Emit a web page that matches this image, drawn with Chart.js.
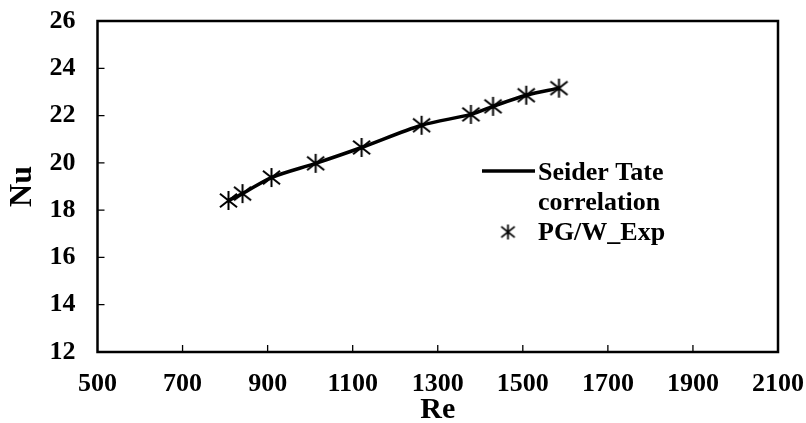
<!DOCTYPE html>
<html>
<head>
<meta charset="utf-8">
<script src="https://cdn.jsdelivr.net/npm/chart.js@4.4.1/dist/chart.umd.min.js"></script>
<style>
  html, body { margin: 0; padding: 0; background: #fff; }
  #wrap { width: 806px; height: 423px; }
</style>
</head>
<body>
<div id="wrap"><canvas id="chart" width="806" height="423"></canvas></div>
<script>
// values
const reValues = [808, 841, 909, 1013, 1121, 1262, 1378, 1430, 1508, 1585];
const nuExp = [18.41, 18.70, 19.38, 19.98, 20.65, 21.59, 22.05, 22.39, 22.86, 23.16];
const nuSeiderTate = [18.41, 18.70, 19.38, 19.98, 20.65, 21.59, 22.05, 22.39, 22.86, 23.16];
const xTicks = [500, 700, 900, 1100, 1300, 1500, 1700, 1900, 2100];
const yTicks = [12, 14, 16, 18, 20, 22, 24, 26];

const FONT = '"Liberation Serif", "Times New Roman", serif';

// six-armed asterisk marker
function makeStar(size, lw) {
  const c = document.createElement('canvas');
  c.width = size; c.height = size;
  const g = c.getContext('2d');
  const m = size / 2, r = size / 2 - 1;
  g.strokeStyle = '#000';
  g.lineWidth = lw;
  g.beginPath();
  g.moveTo(m, m - r); g.lineTo(m, m + r);
  const dx = r * 0.9, dy = r * 0.72;
  g.moveTo(m - dx, m - dy); g.lineTo(m + dx, m + dy);
  g.moveTo(m - dx, m + dy); g.lineTo(m + dx, m - dy);
  g.stroke();
  return c;
}
const star = makeStar(21, 2);
const legendStar = makeStar(17, 1.8);

const toXY = (xs, ys) => xs.map((x, i) => ({ x: x, y: ys[i] }));

const framePlugin = {
  id: 'frame',
  afterDraw(chart) {
    const ctx = chart.ctx;
    const a = chart.chartArea;
    const xs = chart.scales.x, ys = chart.scales.y;
    ctx.save();
    ctx.strokeStyle = '#000';
    ctx.lineWidth = 2.5;
    ctx.strokeRect(a.left, a.top, a.right - a.left, a.bottom - a.top);
    ctx.lineWidth = 1.3;
    ctx.beginPath();
    xTicks.slice(1, -1).forEach(v => {
      const px = xs.getPixelForValue(v);
      ctx.moveTo(px, a.bottom); ctx.lineTo(px, a.bottom - 7);
    });
    yTicks.slice(1, -1).forEach(v => {
      const py = ys.getPixelForValue(v);
      ctx.moveTo(a.left, py); ctx.lineTo(a.left + 7, py);
    });
    ctx.stroke();

    // legend inside the plot
    ctx.fillStyle = '#000';
    ctx.font = 'bold 26px ' + FONT;
    ctx.textBaseline = 'middle';
    ctx.textAlign = 'left';
    ctx.lineWidth = 3.5;
    ctx.beginPath();
    ctx.moveTo(482, 171); ctx.lineTo(535, 171);
    ctx.stroke();
    ctx.fillText('Seider Tate', 538, 173);
    ctx.fillText('correlation', 538, 203);
    ctx.drawImage(legendStar, 508 - 8.5, 232 - 8.5);
    ctx.fillText('PG/W_Exp', 538, 233);
    ctx.restore();
  }
};

new Chart(document.getElementById('chart'), {
  type: 'scatter',
  data: {
    datasets: [
      {
        label: 'Seider Tate correlation',
        data: toXY(reValues, nuSeiderTate),
        showLine: true,
        borderColor: '#000',
        borderWidth: 3.5,
        tension: 0.3,
        pointRadius: 0,
        order: 2
      },
      {
        label: 'PG/W_Exp',
        data: toXY(reValues, nuExp),
        showLine: false,
        pointStyle: star,
        pointRadius: 10,
        order: 1
      }
    ]
  },
  options: {
    responsive: false,
    animation: false,
    layout: { padding: { top: 21, right: 28, left: 0, bottom: 0 } },
    plugins: { legend: { display: false }, tooltip: { enabled: false } },
    scales: {
      x: {
        type: 'linear',
        min: 500, max: 2100,
        afterBuildTicks: s => { s.ticks = xTicks.map(v => ({ value: v })); },
        afterFit: s => { s.height = 71; s.paddingLeft = 0; s.paddingRight = 0; },
        grid: { display: false, drawTicks: false },
        border: { display: false },
        ticks: { color: '#000', padding: 17, maxRotation: 0, callback: v => String(v),
                 font: { family: FONT, size: 26, weight: 'bold' } },
        title: { display: true, text: 'Re', color: '#000', padding: { top: 0, bottom: -5 },
                 font: { family: FONT, size: 30, weight: 'bold' } }
      },
      y: {
        type: 'linear',
        min: 12, max: 26,
        afterBuildTicks: s => { s.ticks = yTicks.map(v => ({ value: v })); },
        afterFit: s => { s.width = 97.5; s.paddingTop = 0; s.paddingBottom = 0; },
        grid: { display: false, drawTicks: false },
        border: { display: false },
        ticks: { color: '#000', padding: 22, callback: v => String(v),
                 font: { family: FONT, size: 26, weight: 'bold' } },
        title: { display: true, text: 'Nu', color: '#000', padding: 4, font: { family: FONT, size: 32, weight: 'bold' } }
      }
    }
  },
  plugins: [framePlugin]
});
</script>
</body>
</html>
